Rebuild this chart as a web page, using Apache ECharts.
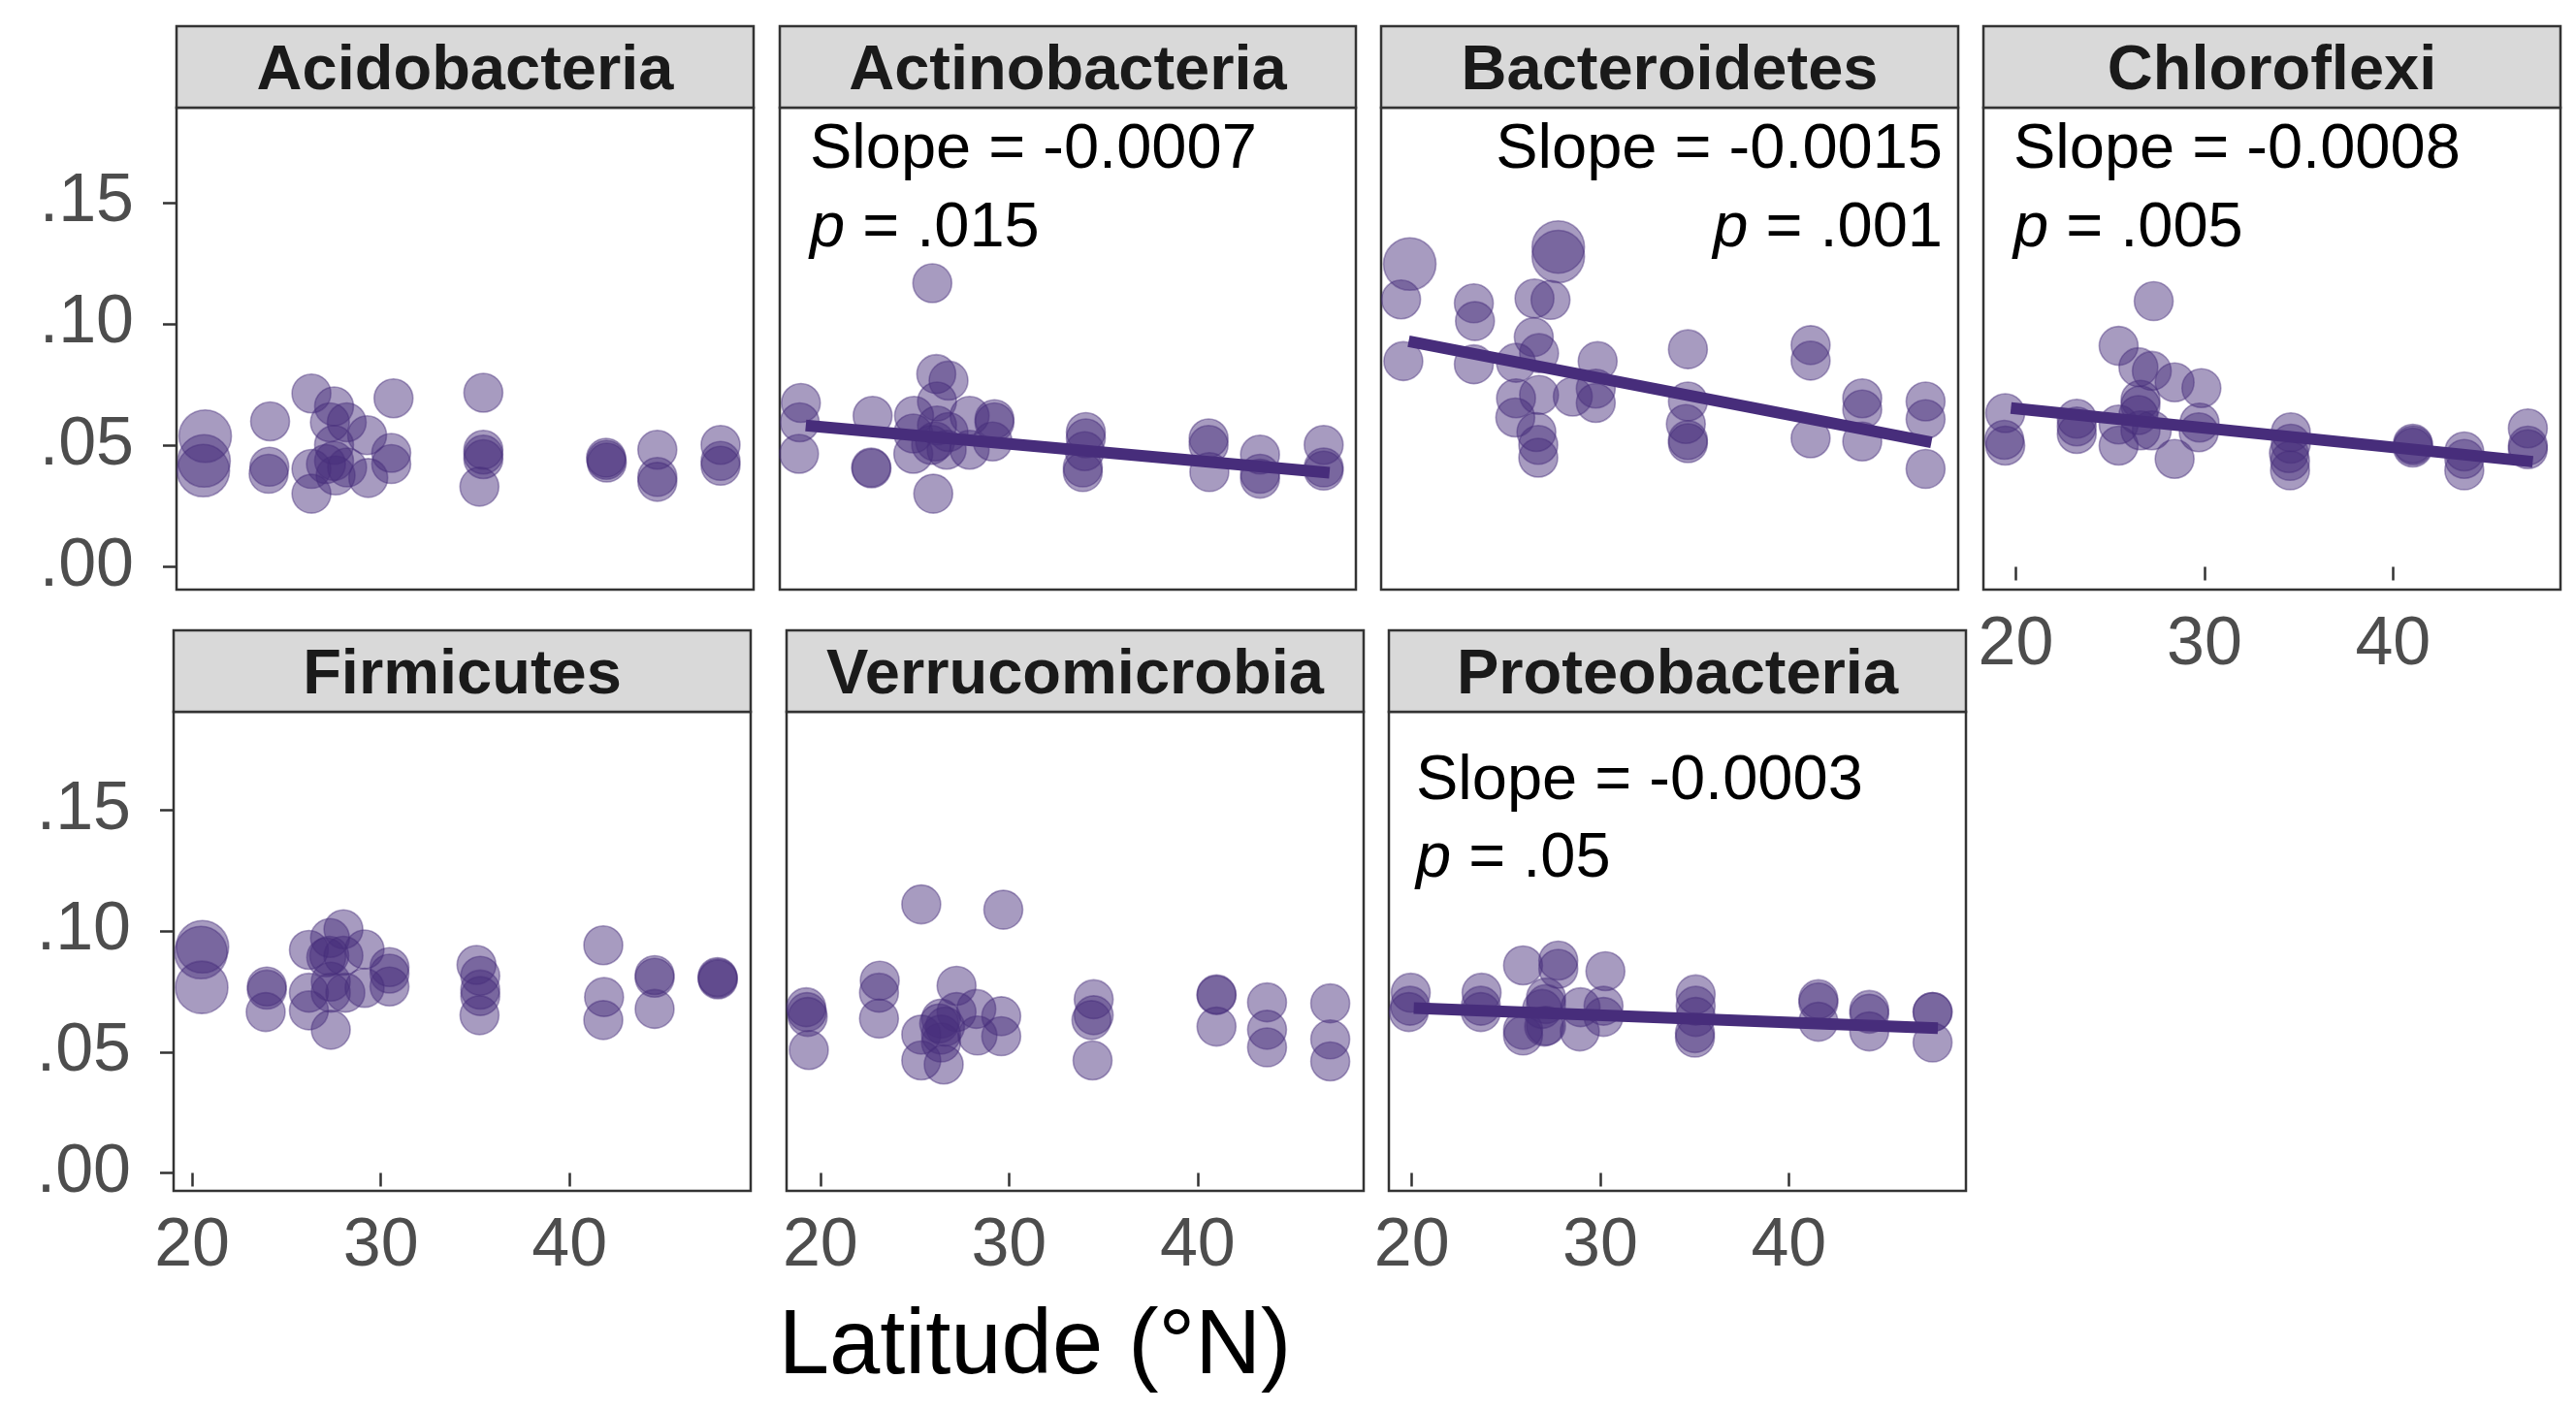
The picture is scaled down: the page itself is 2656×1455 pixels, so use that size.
<!DOCTYPE html>
<html>
<head>
<meta charset="utf-8">
<script src="https://cdn.jsdelivr.net/npm/echarts@6/dist/echarts.min.js"></script>
<style>
  html, body { margin: 0; padding: 0; background: #ffffff; }
  #chart { width: 2656px; height: 1455px; }
</style>
</head>
<body>
<div id="chart"></div>
<script>
// Relative abundance of each phylum by site latitude.
// Each row: [latitude (°N), relative abundance, sample weight]
const acidobacteria = [
  [20.54, 0.0538, 1.35], [20.48, 0.0436, 1.35], [20.44, 0.0396, 1.35],
  [23.98, 0.0599, 1], [23.94, 0.0412, 1], [23.90, 0.0383, 1],
  [26.17, 0.0714, 1], [27.37, 0.0661, 1], [27.15, 0.0595, 1], [28.04, 0.0595, 1],
  [29.12, 0.0542, 1], [30.52, 0.0694, 1], [30.40, 0.0469, 1], [30.40, 0.0423, 1],
  [26.17, 0.0403, 1], [26.17, 0.0301, 1], [27.37, 0.0502, 1], [27.37, 0.0436, 1],
  [27.45, 0.0376, 1], [28.06, 0.0409, 1], [29.18, 0.0366, 1], [26.94, 0.0423, 1],
  [35.28, 0.0717, 1], [35.28, 0.0482, 1], [35.28, 0.0462, 1], [35.28, 0.0443, 1], [35.07, 0.0330, 1],
  [41.78, 0.0449, 1], [41.82, 0.0429, 1], [41.80, 0.0440, 1],
  [44.50, 0.0482, 1], [44.50, 0.0370, 1], [44.50, 0.0350, 1],
  [47.85, 0.0502, 1], [47.85, 0.0436, 1], [47.85, 0.0416, 1]
];
const actinobacteria = [
  [19.33, 0.0675, 1], [19.27, 0.0595, 1], [19.23, 0.0465, 1],
  [23.14, 0.0622, 1], [23.06, 0.0409, 1], [23.08, 0.0405, 1],
  [25.34, 0.0622, 1], [25.30, 0.0549, 1], [25.30, 0.0465, 1],
  [26.31, 0.1168, 1], [26.52, 0.0794, 1], [27.17, 0.0767, 1], [26.56, 0.0681, 1],
  [26.56, 0.0582, 1], [26.46, 0.0516, 1], [27.17, 0.0555, 1], [27.07, 0.0482, 1],
  [28.29, 0.0622, 1], [28.29, 0.0482, 1], [29.61, 0.0608, 1], [29.61, 0.0595, 1],
  [29.51, 0.0516, 1], [26.36, 0.0301, 1], [26.25, 0.0502, 1],
  [34.46, 0.0555, 1], [34.46, 0.0529, 1], [34.40, 0.0476, 1], [34.30, 0.0409, 1], [34.30, 0.0390, 1],
  [40.98, 0.0529, 1], [40.98, 0.0502, 1], [41.02, 0.0390, 1],
  [43.71, 0.0462, 1], [43.71, 0.0383, 1], [43.71, 0.0363, 1],
  [47.09, 0.0502, 1], [47.09, 0.0409, 1], [47.09, 0.0396, 1]
];
const bacteroidetes = [
  [20.30, 0.1247, 1.35], [19.84, 0.1101, 1], [19.96, 0.0847, 1],
  [23.70, 0.1085, 1], [23.76, 0.1012, 1], [23.70, 0.0834, 1],
  [28.18, 0.1317, 1.35], [28.18, 0.1278, 1.35], [26.92, 0.1105, 1], [27.77, 0.1099, 1],
  [26.88, 0.0946, 1], [27.16, 0.0880, 1], [25.94, 0.0840, 1], [25.94, 0.0694, 1],
  [25.90, 0.0615, 1], [27.16, 0.0708, 1], [27.02, 0.0555, 1], [27.12, 0.0502, 1],
  [27.12, 0.0449, 1], [28.95, 0.0701, 1], [30.27, 0.0847, 1], [30.17, 0.0734, 1], [30.17, 0.0675, 1],
  [35.06, 0.0896, 1], [35.06, 0.0681, 1], [34.95, 0.0588, 1], [35.06, 0.0522, 1], [35.06, 0.0509, 1],
  [41.57, 0.0913, 1], [41.57, 0.0849, 1], [41.57, 0.0529, 1],
  [44.31, 0.0694, 1], [44.31, 0.0648, 1], [44.31, 0.0516, 1],
  [47.67, 0.0681, 1], [47.67, 0.0608, 1], [47.67, 0.0403, 1]
];
const chloroflexi = [
  [19.44, 0.0633, 1], [19.39, 0.0523, 1], [19.44, 0.0499, 1],
  [23.23, 0.0610, 1], [23.23, 0.0578, 1], [23.23, 0.0547, 1],
  [25.45, 0.0910, 1], [25.45, 0.0586, 1], [25.45, 0.0499, 1],
  [26.50, 0.0822, 1], [27.21, 0.0807, 1], [27.31, 0.1094, 1], [28.42, 0.0760, 1],
  [29.84, 0.0736, 1], [26.61, 0.0688, 1], [26.61, 0.0665, 1], [26.50, 0.0625, 1],
  [27.21, 0.0562, 1], [26.61, 0.0562, 1], [28.42, 0.0444, 1], [29.74, 0.0594, 1], [29.70, 0.0554, 1],
  [34.58, 0.0554, 1], [34.58, 0.0507, 1], [34.48, 0.0468, 1], [34.54, 0.0436, 1], [34.54, 0.0397, 1],
  [41.05, 0.0507, 1], [41.05, 0.0491, 1], [41.07, 0.0500, 1],
  [43.78, 0.0475, 1], [43.78, 0.0444, 1], [43.78, 0.0397, 1],
  [47.15, 0.0570, 1], [47.15, 0.0499, 1], [47.15, 0.0484, 1]
];
const firmicutes = [
  [20.55, 0.0935, 1.35], [20.47, 0.0911, 1.35], [20.51, 0.0767, 1.35],
  [23.96, 0.0771, 1], [23.96, 0.0758, 1], [23.90, 0.0665, 1],
  [26.19, 0.0922, 1], [27.31, 0.0971, 1], [28.02, 0.1007, 1], [27.27, 0.0898, 1],
  [27.11, 0.0891, 1], [28.02, 0.0898, 1], [29.14, 0.0924, 1],
  [30.46, 0.0851, 1], [30.46, 0.0824, 1], [30.46, 0.0771, 1],
  [26.19, 0.0745, 1], [26.19, 0.0672, 1], [27.35, 0.0791, 1], [27.35, 0.0745, 1],
  [28.12, 0.0745, 1], [29.14, 0.0765, 1], [27.35, 0.0592, 1],
  [35.07, 0.0860, 1], [35.27, 0.0815, 1], [35.27, 0.0758, 1], [35.27, 0.0731, 1], [35.23, 0.0652, 1],
  [41.79, 0.0941, 1], [41.83, 0.0727, 1], [41.79, 0.0632, 1],
  [44.51, 0.0818, 1], [44.51, 0.0807, 1], [44.51, 0.0678, 1],
  [47.86, 0.0805, 1], [47.86, 0.0800, 1], [47.84, 0.0810, 1]
];
const verrucomicrobia = [
  [19.25, 0.0685, 1], [19.29, 0.0665, 1], [19.33, 0.0645, 1], [19.39, 0.0508, 1],
  [23.15, 0.0795, 1], [23.11, 0.0745, 1], [23.11, 0.0638, 1],
  [25.35, 0.1110, 1], [29.70, 0.1088, 1], [27.22, 0.0774, 1], [27.22, 0.0665, 1],
  [28.27, 0.0678, 1], [26.40, 0.0638, 1], [26.61, 0.0605, 1], [26.40, 0.0572, 1],
  [26.40, 0.0539, 1], [25.35, 0.0572, 1], [25.35, 0.0465, 1], [26.54, 0.0448, 1],
  [28.33, 0.0568, 1], [29.59, 0.0648, 1], [29.59, 0.0565, 1], [26.30, 0.0618, 1],
  [34.49, 0.0718, 1], [34.49, 0.0652, 1], [34.37, 0.0632, 1], [34.43, 0.0465, 1],
  [41.00, 0.0738, 1], [41.00, 0.0735, 1], [41.00, 0.0605, 1],
  [43.68, 0.0705, 1], [43.68, 0.0592, 1], [43.68, 0.0519, 1],
  [47.03, 0.0701, 1], [47.03, 0.0552, 1], [47.03, 0.0461, 1]
];
const proteobacteria = [
  [19.94, 0.0745, 1], [19.90, 0.0691, 1], [19.84, 0.0665, 1],
  [23.70, 0.0745, 1], [23.66, 0.0691, 1], [23.66, 0.0665, 1],
  [25.90, 0.0858, 1], [27.77, 0.0878, 1], [27.77, 0.0844, 1], [30.27, 0.0834, 1],
  [27.12, 0.0725, 1], [27.12, 0.0698, 1], [27.02, 0.0605, 1], [27.12, 0.0608, 1],
  [25.90, 0.0568, 1], [25.90, 0.0592, 1], [28.91, 0.0585, 1], [30.17, 0.0691, 1],
  [30.17, 0.0645, 1], [28.95, 0.0685, 1], [26.91, 0.0678, 1],
  [35.06, 0.0738, 1], [35.06, 0.0691, 1], [35.06, 0.0645, 1], [35.02, 0.0578, 1], [35.02, 0.0559, 1],
  [41.57, 0.0718, 1], [41.57, 0.0705, 1], [41.57, 0.0625, 1],
  [44.27, 0.0674, 1], [44.27, 0.0658, 1], [44.27, 0.0585, 1],
  [47.63, 0.0665, 1], [47.63, 0.0665, 1], [47.63, 0.0539, 1]
];

const phylumNames = ['Acidobacteria', 'Actinobacteria', 'Bacteroidetes', 'Chloroflexi',
                     'Firmicutes', 'Verrucomicrobia', 'Proteobacteria'];
const phylumData = [acidobacteria, actinobacteria, bacteroidetes, chloroflexi,
                    firmicutes, verrucomicrobia, proteobacteria];

const xTicks = [20, 30, 40];
const yTicks = [0, 0.05, 0.10, 0.15];
const yTickLabels = ['.00', '.05', '.10', '.15'];
const xTitle = 'Latitude (°N)';

// Significant linear fits: slope, p value, intercept at 0 °N, fitted latitude span
const fitPhyla     = ['Actinobacteria', 'Bacteroidetes', 'Chloroflexi', 'Proteobacteria'];
const fitSlopes    = [-0.0007, -0.0015, -0.0008, -0.0003];
const fitPValues   = ['.015', '.001', '.005', '.05'];
const fitIntercept = [0.07191, 0.12326, 0.08119, 0.07423];
const fitSpans     = [[19.59, 47.40], [20.24, 47.98], [19.74, 47.41], [20.10, 47.91]];

// ---- layout (pixels) ----
const FONT = "'Liberation Sans', Arial, Helvetica, sans-serif";
const ROW1 = { top: 111, height: 497, stripTop: 27, yMin: -0.0094, yMax: 0.1891 };
const ROW2 = { top: 734, height: 494, stripTop: 650, yMin: -0.0074, yMax: 0.1906 };
const panels = [
  { row: ROW1, left: 182,  width: 595, xMin: 19.02, xMax: 49.6,  xAxis: false, yAxis: true },
  { row: ROW1, left: 804,  width: 594, xMin: 18.21, xMax: 48.8,  xAxis: false, yAxis: false,
    note: { align: 'left', dx: 31, dy1: 44.5, dy2: 125 } },
  { row: ROW1, left: 1424, width: 595, xMin: 18.78, xMax: 49.4,  xAxis: false, yAxis: false,
    note: { align: 'right', dx: 579, dy1: 44.5, dy2: 125 } },
  { row: ROW1, left: 2045, width: 595, xMin: 18.28, xMax: 48.88, xAxis: true,  yAxis: false,
    note: { align: 'left', dx: 31, dy1: 44.5, dy2: 125 } },
  { row: ROW2, left: 179,  width: 595, xMin: 19.02, xMax: 49.6,  xAxis: true,  yAxis: true },
  { row: ROW2, left: 811,  width: 595, xMin: 18.21, xMax: 48.8,  xAxis: true,  yAxis: false },
  { row: ROW2, left: 1432, width: 595, xMin: 18.78, xMax: 49.4,  xAxis: true,  yAxis: false,
    note: { align: 'left', dx: 28, dy1: 72, dy2: 152 } }
];

const PURPLE = '#472D7B';
const FRAME = '#333333';

const grids = [], xAxes = [], yAxes = [], series = [], graphics = [];

panels.forEach((p, i) => {
  const r = p.row;
  grids.push({
    left: p.left, top: r.top, width: p.width, height: r.height,
    show: true, borderColor: FRAME, borderWidth: 2.5, backgroundColor: '#ffffff',
    containLabel: false, outerBoundsMode: 'none'
  });
  xAxes.push({
    gridIndex: i, type: 'value', min: p.xMin, max: p.xMax,
    axisLine: { show: false }, splitLine: { show: false },
    axisTick: { show: p.xAxis, length: 14, customValues: xTicks,
                lineStyle: { color: FRAME, width: 2.5 } },
    axisLabel: { show: p.xAxis, customValues: xTicks, margin: 23,
                 fontSize: 70, fontFamily: FONT, color: '#4D4D4D' }
  });
  yAxes.push({
    gridIndex: i, type: 'value', min: r.yMin, max: r.yMax,
    axisLine: { show: false }, splitLine: { show: false },
    axisTick: { show: p.yAxis, length: 14, customValues: yTicks,
                lineStyle: { color: FRAME, width: 2.5 } },
    axisLabel: {
      show: p.yAxis, customValues: yTicks, margin: 44,
      fontSize: 70, fontFamily: FONT, color: '#4D4D4D',
      formatter: v => {
        const k = yTicks.findIndex(t => Math.abs(t - v) < 1e-9);
        return k >= 0 ? yTickLabels[k] : '';
      }
    }
  });

  // observations
  series.push({
    type: 'scatter', xAxisIndex: i, yAxisIndex: i,
    data: phylumData[i],
    symbol: 'circle',
    symbolSize: d => 40 * d[2],
    itemStyle: { color: 'rgba(71,45,123,0.6)', borderColor: 'rgba(71,45,123,0.55)', borderWidth: 1.6 },
    emphasis: { disabled: true },
    silent: true, z: 2
  });

  // fitted regression line, when significant
  const f = fitPhyla.indexOf(phylumNames[i]);
  if (f >= 0) {
    const line = fitSpans[f].map(x => [x, fitIntercept[f] + fitSlopes[f] * x]);
    series.push({
      type: 'line', xAxisIndex: i, yAxisIndex: i, data: line,
      showSymbol: false, symbol: 'none', silent: true, z: 3,
      lineStyle: { color: PURPLE, width: 12, cap: 'butt' },
      emphasis: { disabled: true }
    });
    const n = p.note;
    const tx = p.left + n.dx;
    graphics.push({
      type: 'text', x: tx, y: r.top + n.dy1, z: 10, silent: true,
      style: { text: 'Slope = ' + fitSlopes[f].toFixed(4), font: '65px ' + FONT,
               fill: '#000000', align: n.align, verticalAlign: 'middle' }
    });
    graphics.push({
      type: 'text', x: tx, y: r.top + n.dy2, z: 10, silent: true,
      style: { text: '{it|p} = ' + fitPValues[f], font: '65px ' + FONT,
               fill: '#000000', align: n.align, verticalAlign: 'middle',
               rich: { it: { font: 'italic 65px ' + FONT, fill: '#000000' } } }
    });
  }

  // facet strip
  graphics.push({
    type: 'rect', silent: true, z: 5,
    shape: { x: p.left, y: r.stripTop, width: p.width, height: r.top - r.stripTop },
    style: { fill: '#D9D9D9', stroke: FRAME, lineWidth: 2.5 }
  });
  graphics.push({
    type: 'text', silent: true, z: 6,
    x: p.left + p.width / 2, y: r.stripTop + (r.top - r.stripTop) / 2 + 5,
    style: { text: phylumNames[i], font: 'bold 65px ' + FONT, fill: '#1A1A1A',
             align: 'center', verticalAlign: 'middle' }
  });
});

// shared x-axis title
graphics.push({
  type: 'text', silent: true, z: 6, x: 1067, y: 1390,
  style: { text: xTitle, font: '94px ' + FONT, fill: '#000000',
           align: 'center', verticalAlign: 'middle' }
});

const chart = echarts.init(document.getElementById('chart'), null, { renderer: 'canvas' });
chart.setOption({
  backgroundColor: '#ffffff',
  animation: false,
  grid: grids,
  xAxis: xAxes,
  yAxis: yAxes,
  series: series,
  graphic: graphics
});
</script>
</body>
</html>
